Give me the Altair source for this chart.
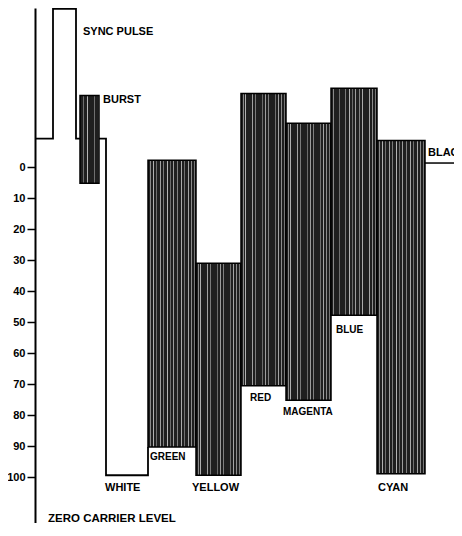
import altair as alt
import pandas as pd

# ---------------- data ----------------
# y values: scale where 0 = top tick, 100 = bottom tick (reversed axis)
tick_values = [0, 10, 20, 30, 40, 50, 60, 70, 80, 90, 100]

# sync / blanking / white outline of the waveform
path_x = [0, 18, 18, 41, 41, 71, 71, 113, 113]
path_v = [-9.2, -9.2, -51.0, -51.0, -9.2, -9.2, 99.4, 99.4, 90.3]

# colour burst packet
burst_x0, burst_x1 = [45], [64]
burst_top, burst_bottom = [-23.1], [5.2]

# chroma envelopes of the colour bars
bar_names = ["GREEN", "YELLOW", "RED", "MAGENTA", "BLUE", "CYAN"]
bar_x0 = [113, 161, 206, 251, 296, 342]
bar_x1 = [161, 206, 251, 296, 342, 390]
bar_top = [-2.2, 31.0, -23.7, -14.1, -25.4, -8.6]
bar_bottom = [90.3, 99.4, 70.5, 75.2, 47.8, 98.9]

# black level after the bars
black_x = [390, 419]
black_v = [-1.3, -1.3]

# annotation texts (data coordinates)
big_labels = ["SYNC PULSE", "BURST", "WHITE", "YELLOW", "CYAN", "BLACK"]
big_x = [48, 68, 70, 157, 343, 393]
big_v = [-43.5, -21.6, 103.5, 103.5, 103.5, -4.5]

small_labels = ["GREEN", "RED", "MAGENTA", "BLUE"]
small_x = [115, 215, 248, 301]
small_v = [93.5, 74.5, 79.0, 52.6]

bottom_label = ["ZERO CARRIER LEVEL"]
bottom_x = [13]
bottom_v = [114.4]

# ---------------- styling ----------------
FONT = "Liberation Sans"
X_DOMAIN = [0, 419]
Y_DOMAIN = [-51.3, 114.8]

xs = alt.Scale(domain=X_DOMAIN, nice=False, zero=False)
ys = alt.Scale(domain=Y_DOMAIN, nice=False, zero=False, reverse=True)
y_axis = alt.Axis(
    values=tick_values, title=None, grid=False,
    domainColor="black", domainWidth=2,
    tickColor="black", tickSize=8, tickWidth=1.5,
    labelFont=FONT, labelFontWeight="bold", labelFontSize=11,
    labelColor="black", labelPadding=2)

stripe_pos = [0.04, 0.10, 0.17, 0.25, 0.31, 0.39, 0.46, 0.53, 0.61, 0.68, 0.75, 0.83, 0.90, 0.96]
stripe_col = ["#8a8a8a", "#b0b0b0", "#6e6e6e", "#a0a0a0", "#7a7a7a", "#b5b5b5", "#6a6a6a",
              "#9c9c9c", "#808080", "#aaaaaa", "#707070", "#a4a4a4", "#8c8c8c", "#777777"]
BASE = "#1f1f1f"
stops = [alt.GradientStop(color=BASE, offset=0)]
for p, c in zip(stripe_pos, stripe_col):
    stops += [alt.GradientStop(color=BASE, offset=p),
              alt.GradientStop(color=c, offset=p),
              alt.GradientStop(color=c, offset=p + 0.018),
              alt.GradientStop(color=BASE, offset=p + 0.018)]
stops.append(alt.GradientStop(color=BASE, offset=1))
stripes = alt.LinearGradient(gradient="linear", stops=stops, x1=0, x2=1, y1=0, y2=0)

# ---------------- layers ----------------
path_df = pd.DataFrame({"x": path_x, "v": path_v, "i": list(range(len(path_x)))})
outline = alt.Chart(path_df).mark_line(color="black", strokeWidth=1.8).encode(
    x=alt.X("x:Q", scale=xs, axis=None),
    y=alt.Y("v:Q", scale=ys, axis=y_axis),
    order="i:Q",
)

burst_df = pd.DataFrame({"x0": burst_x0, "x1": burst_x1, "t": burst_top, "b": burst_bottom})
burst = alt.Chart(burst_df).mark_rect(fill=stripes, stroke="black", strokeWidth=1.5).encode(
    x=alt.X("x0:Q", scale=xs, axis=None), x2="x1:Q",
    y=alt.Y("t:Q", scale=ys, axis=y_axis), y2="b:Q",
)

bars_df = pd.DataFrame({"name": bar_names, "x0": bar_x0, "x1": bar_x1,
                        "t": bar_top, "b": bar_bottom})
bars = alt.Chart(bars_df).mark_rect(fill=stripes, stroke="black", strokeWidth=1.5).encode(
    x=alt.X("x0:Q", scale=xs, axis=None), x2="x1:Q",
    y=alt.Y("t:Q", scale=ys, axis=y_axis), y2="b:Q",
)

black_df = pd.DataFrame({"x": black_x, "v": black_v})
black = alt.Chart(black_df).mark_line(color="black", strokeWidth=1.5).encode(
    x=alt.X("x:Q", scale=xs, axis=None),
    y=alt.Y("v:Q", scale=ys, axis=y_axis),
)


def text_layer(labels, xv, vv, size, baseline="middle"):
    df = pd.DataFrame({"label": labels, "x": xv, "v": vv})
    return alt.Chart(df).mark_text(
        align="left", baseline=baseline, font=FONT, fontWeight="bold",
        fontSize=size, color="black").encode(
        x=alt.X("x:Q", scale=xs, axis=None),
        y=alt.Y("v:Q", scale=ys, axis=y_axis),
        text="label:N",
    )


t_big = text_layer(big_labels, big_x, big_v, 11)
t_small = text_layer(small_labels, small_x, small_v, 10)
t_bottom = text_layer(bottom_label, bottom_x, bottom_v, 11.5, baseline="alphabetic")

chart = alt.layer(outline, burst, bars, black, t_big, t_small, t_bottom).properties(
    width=419, height=515,
    padding={"left": 27, "top": 0, "right": 0, "bottom": 0},
    autosize=alt.AutoSizeParams(type="none"),
    background="white",
).configure_view(strokeWidth=0)

chart.save("out.html", embed_options={"renderer": "svg", "actions": False})
